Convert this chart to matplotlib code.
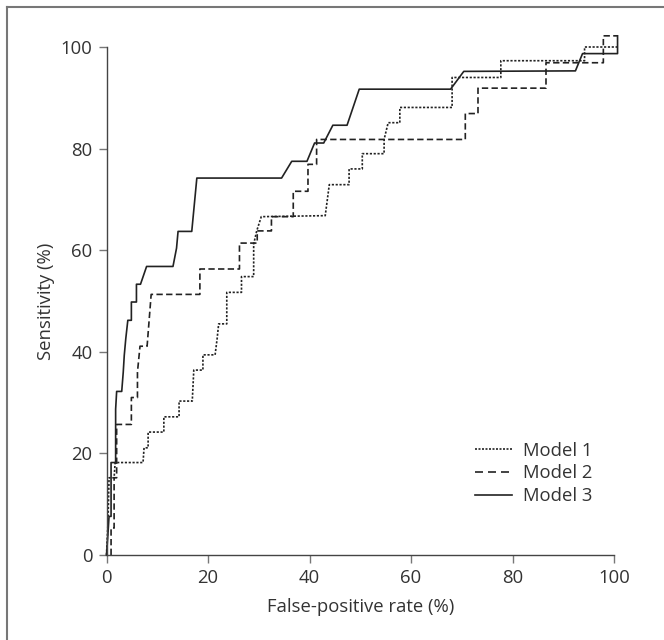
import matplotlib
matplotlib.use("Agg")
import matplotlib.pyplot as plt
from matplotlib.lines import Line2D

plt.rcParams['font.family'] = ['Open Sans', 'DejaVu Sans']

# Model 1 (dotted)
m1_x = [0, 0.3, 0.5, 1.5, 1.7, 7.2, 7.4, 8.2, 8.2, 11.3, 11.3, 14.3, 14.3, 16.9, 17.2, 19.0, 19.0,
        21.4, 21.8, 22.1, 23.7, 23.7, 26.6, 26.6, 29.0, 29.0, 29.6, 30.5, 43.1, 43.9, 47.8, 47.8,
        50.4, 50.4, 54.7, 54.7, 55.5, 57.8, 57.8, 68.1, 68.1, 77.7, 77.7, 94.2, 94.2, 100.7]
m1_y = [0, 6.5, 15.2, 15.2, 18.2, 18.2, 21.1, 21.1, 24.2, 24.2, 27.2, 27.2, 30.3, 30.3, 36.4, 36.4, 39.4,
        39.4, 42.6, 45.5, 45.5, 51.7, 51.7, 54.8, 54.8, 61.2, 63.8, 66.6, 66.8, 72.9, 72.9, 76.0,
        76.0, 79.0, 79.0, 81.8, 85.1, 85.1, 88.1, 88.1, 94.0, 94.0, 97.3, 97.3, 100.0, 100.0]

# Model 2 (dashed)
m2_x = [0.9, 0.9, 1.5, 1.5, 2.0, 2.0, 4.9, 4.9, 6.1, 6.1, 6.6, 8.0, 8.8, 18.4, 18.4, 26.2, 26.2,
        29.7, 29.7, 32.5, 32.5, 36.8, 36.8, 39.7, 39.7, 41.4, 41.4, 70.7, 70.7, 73.2, 73.2,
        86.6, 86.6, 97.9, 97.9, 100.7]
m2_y = [0, 5.3, 5.3, 15.2, 15.2, 25.7, 25.7, 31.0, 31.0, 36.0, 41.1, 41.1, 51.3, 51.3, 56.3, 56.3, 61.4,
        61.4, 63.8, 63.8, 66.6, 66.6, 71.6, 71.6, 76.9, 76.9, 81.8, 81.8, 86.9, 86.9, 91.9,
        91.9, 96.9, 96.9, 102.2, 102.2]

# Model 3 (solid)
m3_x = [0, 0.3, 0.5, 0.9, 0.9, 1.8, 1.8, 2.0, 3.0, 3.3, 3.5, 3.8, 4.2, 4.9, 4.9, 5.9, 5.9, 6.7, 7.9,
        13.1, 13.8, 14.1, 16.8, 17.8, 34.5, 36.5, 39.5, 41.0, 42.8, 44.6, 47.4, 49.8, 67.8, 70.4,
        92.4, 93.8, 100.7, 100.7]
m3_y = [0, 4.4, 7.6, 7.6, 18.2, 18.2, 28.7, 32.2, 32.2, 36.0, 39.3, 42.6, 46.2, 46.2, 49.8, 49.8, 53.3,
        53.3, 56.8, 56.8, 60.4, 63.7, 63.7, 74.2, 74.2, 77.5, 77.5, 81.1, 81.1, 84.6, 84.6, 91.7,
        91.7, 95.2, 95.3, 98.7, 98.7, 102.2]

ticks = [0, 20, 40, 60, 80, 100]
labels = ["Model 1", "Model 2", "Model 3"]

FS = 13.3
lc = "#222222"
tc = "#333333"
LW = 1.2
dot = (0, (1.3, 1.0))
dash = (0, (3.8, 2.0))

fig = plt.figure(figsize=(6.64, 6.40), dpi=100)
ax = fig.add_axes([106.5 / 664, 1 - 555 / 640, (614 - 106.5) / 664, (555 - 47) / 640])

ax.plot(m1_x, m1_y, color=lc, lw=LW, linestyle=dot, clip_on=False)
ax.plot(m2_x, m2_y, color=lc, lw=LW, linestyle=dash, clip_on=False)
ax.plot(m3_x, m3_y, color=lc, lw=LW, linestyle="-", clip_on=False)

ax.set_xlim(0, 100)
ax.set_ylim(0, 100)
ax.set_xticks(ticks)
ax.set_yticks(ticks)
for s in ["top", "right"]:
    ax.spines[s].set_visible(False)
for s in ["left", "bottom"]:
    ax.spines[s].set_color("#444444")
    ax.spines[s].set_linewidth(1.0)
ax.tick_params(direction="out", length=6, width=1.0, color="#777777", labelcolor=tc,
               labelsize=FS)
ax.tick_params(axis="x", pad=4)
ax.tick_params(axis="y", pad=4)
ax.set_xlabel("False-positive rate (%)", fontsize=FS, color=tc, labelpad=8)
ax.set_ylabel("Sensitivity (%)", fontsize=FS, color=tc, labelpad=4)

handles = [
    Line2D([], [], color=lc, lw=LW, linestyle=(0, (1.2, 0.9))),
    Line2D([], [], color=lc, lw=LW, linestyle=(0, (4.8, 3.0))),
    Line2D([], [], color=lc, lw=LW, linestyle="-"),
]
leg = fig.legend(handles, labels, loc="center left", bbox_to_anchor=(475 / 664, 1 - 473.5 / 640),
                 frameon=False, fontsize=FS, handlelength=2.0, handletextpad=0.6,
                 labelspacing=0.25, borderpad=0, borderaxespad=0)
for t in leg.get_texts():
    t.set_color(tc)

# frame lines (top and left)
fig.add_artist(Line2D([7 / 664, 7 / 664], [0, 1 - 7 / 640], transform=fig.transFigure,
                      color="#777777", lw=1.5))
fig.add_artist(Line2D([7 / 664, 1], [1 - 7 / 640, 1 - 7 / 640], transform=fig.transFigure,
                      color="#777777", lw=1.5))

fig.savefig("out.png", dpi=100)
